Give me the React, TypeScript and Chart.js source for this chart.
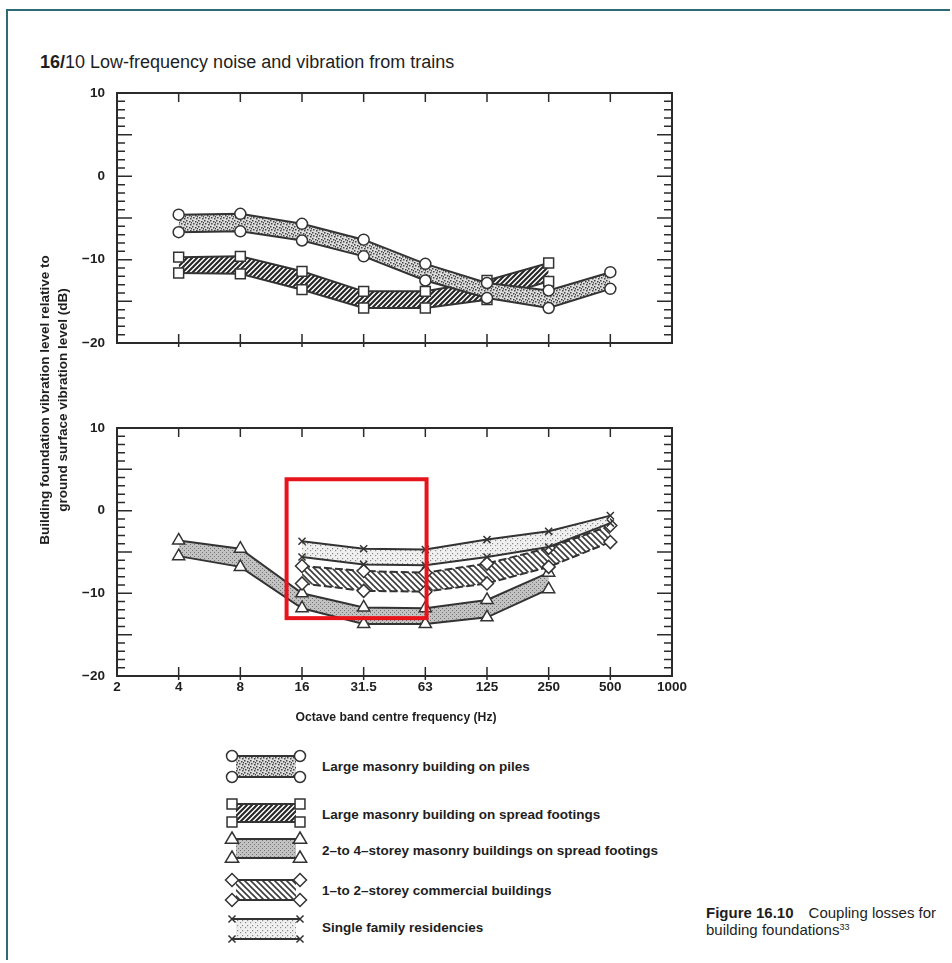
import React, { useEffect, useRef } from 'react';
import { Chart, registerables } from 'chart.js';

Chart.register(...registerables);

const FONT = '"Liberation Sans", Arial, Helvetica, sans-serif';

// Octave-band axis (tick labels)
const FREQ_LABELS = ['2', '4', '8', '16', '31.5', '63', '125', '250', '500', '1000'];

// Upper panel: large masonry building on piles (band limits, dB)
const PILES_FREQ = ['4', '8', '16', '31.5', '63', '125', '250', '500'];
const PILES_UPPER = [-4.6, -4.5, -5.7, -7.6, -10.5, -12.8, -13.7, -11.5];
const PILES_LOWER = [-6.7, -6.6, -7.7, -9.6, -12.5, -14.6, -15.8, -13.5];

// Upper panel: large masonry building on spread footings
const SPREAD_FREQ = ['4', '8', '16', '31.5', '63', '125', '250'];
const SPREAD_UPPER = [-9.7, -9.6, -11.4, -13.8, -13.8, -12.5, -10.4];
const SPREAD_LOWER = [-11.6, -11.7, -13.6, -15.8, -15.8, -14.8, -12.6];

// Lower panel: 2- to 4-storey masonry buildings on spread footings
const MASONRY_FREQ = ['4', '8', '16', '31.5', '63', '125', '250'];
const MASONRY_UPPER = [-3.6, -4.6, -10.0, -11.7, -11.8, -10.8, -7.5];
const MASONRY_LOWER = [-5.5, -6.8, -11.8, -13.7, -13.7, -12.9, -9.5];

// Lower panel: 1- to 2-storey commercial buildings
const COMMERCIAL_FREQ = ['16', '31.5', '63', '125', '250', '500'];
const COMMERCIAL_UPPER = [-6.7, -7.3, -7.5, -6.4, -4.5, -1.8];
const COMMERCIAL_LOWER = [-8.8, -9.7, -9.8, -8.8, -6.8, -3.8];

// Lower panel: single family residencies
const RESIDENCE_FREQ = ['16', '31.5', '63', '125', '250', '500'];
const RESIDENCE_UPPER = [-3.7, -4.6, -4.7, -3.5, -2.5, -0.6];
const RESIDENCE_LOWER = [-5.6, -6.5, -6.6, -5.6, -4.4, -1.5];

const LEGEND_LABELS = [
  'Large masonry building on piles',
  'Large masonry building on spread footings',
  '2\u2013to 4\u2013storey masonry buildings on spread footings',
  '1\u2013to 2\u2013storey commercial buildings',
  'Single family residencies',
];

// Highlight box (annotation on the lower panel), in axis units
const HIGHLIGHT = { xFrom: 2.75, xTo: 5.02, yFrom: 3.8, yTo: -13.0 };

const LINE = '#333333';

const idx = (f: string) => FREQ_LABELS.indexOf(f);
const pts = (freqs: string[], vals: number[]) => freqs.map((f, i) => ({ x: idx(f), y: vals[i] }));

type PatKind = 'coarseDots' | 'fineDots' | 'lightDots' | 'slash' | 'backslash';

function makePattern(kind: PatKind): CanvasPattern {
  const c = document.createElement('canvas');
  const g = c.getContext('2d')!;
  if (kind === 'slash' || kind === 'backslash') {
    const s = kind === 'slash' ? 5 : 6;
    c.width = s;
    c.height = s;
    g.fillStyle = '#ffffff';
    g.fillRect(0, 0, s, s);
    g.strokeStyle = kind === 'slash' ? '#262626' : '#3c3c3c';
    g.lineWidth = kind === 'slash' ? 2.1 : 1.6;
    g.beginPath();
    if (kind === 'slash') {
      g.moveTo(-1, s + 1); g.lineTo(s + 1, -1);
      g.moveTo(-1, 1); g.lineTo(1, -1);
      g.moveTo(s - 1, s + 1); g.lineTo(s + 1, s - 1);
    } else {
      g.moveTo(-1, -1); g.lineTo(s + 1, s + 1);
      g.moveTo(-1, s - 1); g.lineTo(1, s + 1);
      g.moveTo(s - 1, -1); g.lineTo(s + 1, 1);
    }
    g.stroke();
  } else {
    let s = 6, bg = '#dcdcdc', dot = '#444444', w = 1.5;
    let spots: number[][] = [[0, 0], [3, 1], [1, 3], [4, 4], [5, 2]];
    if (kind === 'fineDots') {
      s = 4; bg = '#c2c2c2'; dot = '#767676'; w = 1; spots = [[0, 0], [2, 2]];
    } else if (kind === 'lightDots') {
      s = 5; bg = '#f0f0f0'; dot = '#8a8a8a'; w = 1.2; spots = [[0, 0], [2, 3]];
    }
    c.width = s;
    c.height = s;
    g.fillStyle = bg;
    g.fillRect(0, 0, s, s);
    g.fillStyle = dot;
    spots.forEach(([x, y]) => g.fillRect(x, y, w, w));
  }
  return g.createPattern(c, 'repeat')!;
}

function band(
  name: string,
  freqs: string[],
  upper: number[],
  lower: number[],
  style: string,
  radius: number,
  fillPattern: CanvasPattern,
  dash: number[] = []
) {
  const common = {
    borderColor: LINE,
    borderWidth: 2,
    borderDash: dash,
    pointStyle: style,
    pointRadius: radius,
    pointBackgroundColor: '#ffffff',
    pointBorderColor: LINE,
    pointBorderWidth: 1.5,
    tension: 0,
  };
  return [
    { ...common, label: name + ' (upper)', data: pts(freqs, upper), fill: false },
    { ...common, label: name + ' (lower)', data: pts(freqs, lower), fill: '-1', backgroundColor: fillPattern },
  ];
}

const framePlugin = {
  id: 'frameTicks',
  afterDraw(chart: any) {
    const { ctx, chartArea: a, scales } = chart;
    const xs = scales.x;
    const ys = scales.y;
    ctx.save();
    ctx.strokeStyle = '#2b2b2b';
    ctx.lineWidth = 2;
    ctx.strokeRect(a.left, a.top, a.right - a.left, a.bottom - a.top);
    ctx.lineWidth = 1.5;
    ctx.beginPath();
    for (let v = ys.min; v <= ys.max; v++) {
      const py = ys.getPixelForValue(v);
      const len = v % 5 === 0 ? 15 : 8;
      ctx.moveTo(a.left, py); ctx.lineTo(a.left + len, py);
      ctx.moveTo(a.right, py); ctx.lineTo(a.right - len, py);
    }
    for (let i = xs.min + 1; i < xs.max; i++) {
      const px = xs.getPixelForValue(i);
      ctx.moveTo(px, a.top); ctx.lineTo(px, a.top + 9);
      ctx.moveTo(px, a.bottom + 4); ctx.lineTo(px, a.bottom - 9);
    }
    ctx.stroke();
    ctx.restore();
  },
};

const highlightPlugin = {
  id: 'highlightBox',
  afterDraw(chart: any) {
    const { ctx, scales } = chart;
    const x0 = scales.x.getPixelForValue(HIGHLIGHT.xFrom);
    const x1 = scales.x.getPixelForValue(HIGHLIGHT.xTo);
    const y0 = scales.y.getPixelForValue(HIGHLIGHT.yFrom);
    const y1 = scales.y.getPixelForValue(HIGHLIGHT.yTo);
    ctx.save();
    ctx.strokeStyle = '#e8141c';
    ctx.lineWidth = 4;
    ctx.strokeRect(x0, y0, x1 - x0, y1 - y0);
    ctx.restore();
  },
};

const tickFont = { family: FONT, size: 13.5, weight: 'bold' as const };

function panelConfig(datasets: any[], padTop: number, padBottom: number, xHeight: number, showX: boolean, extra: any[]) {
  return {
    type: 'line' as const,
    data: { datasets },
    options: {
      animation: false as const,
      responsive: false,
      devicePixelRatio: 1,
      layout: { padding: { left: 0, right: 48, top: padTop, bottom: padBottom } },
      plugins: { legend: { display: false }, tooltip: { enabled: false } },
      scales: {
        x: {
          type: 'linear' as const,
          min: 0,
          max: 9,
          grid: { display: false },
          border: { display: false },
          ticks: {
            display: showX,
            stepSize: 1,
            autoSkip: false,
            maxRotation: 0,
            padding: -5,
            color: '#1e1e1e',
            font: tickFont,
            callback: (v: any) => FREQ_LABELS[v] ?? '',
          },
          afterFit: (s: any) => { s.height = xHeight; },
        },
        y: {
          min: -20,
          max: 10,
          grid: { display: false },
          border: { display: false },
          ticks: {
            stepSize: 10,
            padding: 4,
            color: '#1e1e1e',
            font: tickFont,
            callback: (v: any) => (v < 0 ? '\u2212' + Math.abs(v) : String(v)),
          },
          afterFit: (s: any) => { s.width = 117; },
        },
      },
    },
    plugins: [framePlugin, ...extra],
  };
}

function drawMarker(ctx: CanvasRenderingContext2D, style: string, x: number, y: number, r: number) {
  ctx.beginPath();
  if (style === 'circle') {
    ctx.arc(x, y, r, 0, Math.PI * 2);
  } else if (style === 'rect') {
    const s = Math.SQRT1_2 * r;
    ctx.rect(x - s, y - s, 2 * s, 2 * s);
  } else if (style === 'triangle') {
    ctx.moveTo(x, y - r);
    ctx.lineTo(x + r * 0.95, y + r * 0.6);
    ctx.lineTo(x - r * 0.95, y + r * 0.6);
    ctx.closePath();
  } else if (style === 'rectRot') {
    ctx.moveTo(x - r, y); ctx.lineTo(x, y - r); ctx.lineTo(x + r, y); ctx.lineTo(x, y + r);
    ctx.closePath();
  } else {
    const d = r * Math.SQRT1_2;
    ctx.moveTo(x - d, y - d); ctx.lineTo(x + d, y + d);
    ctx.moveTo(x + d, y - d); ctx.lineTo(x - d, y + d);
    ctx.stroke();
    return;
  }
  ctx.fillStyle = '#ffffff';
  ctx.fill();
  ctx.stroke();
}

// legend swatch geometry (page px) and the legend canvas origin
const LEG_ORIGIN = { x: 220, y: 742 };
const LEG_ROWS = [
  { top: 756, bottom: 777, text: 767 },
  { top: 804, bottom: 822, text: 815 },
  { top: 839, bottom: 858, text: 851 },
  { top: 880, bottom: 900, text: 891 },
  { top: 919, bottom: 939, text: 928 },
];
const LEG_STYLES = [
  { style: 'circle', r: 5.5 },
  { style: 'rect', r: 7 },
  { style: 'triangle', r: 7 },
  { style: 'rectRot', r: 6.5 },
  { style: 'crossRot', r: 5 },
];

export default function App() {
  const topRef = useRef<HTMLCanvasElement>(null);
  const botRef = useRef<HTMLCanvasElement>(null);
  const legRef = useRef<HTMLCanvasElement>(null);

  useEffect(() => {
    const pat = {
      piles: makePattern('coarseDots'),
      spread: makePattern('slash'),
      masonry: makePattern('fineDots'),
      commercial: makePattern('backslash'),
      residence: makePattern('lightDots'),
    };

    const topDatasets = [
      ...band('Large masonry building on piles', PILES_FREQ, PILES_UPPER, PILES_LOWER, 'circle', 5.5, pat.piles),
      ...band('Large masonry building on spread footings', SPREAD_FREQ, SPREAD_UPPER, SPREAD_LOWER, 'rect', 7, pat.spread),
    ];
    const botDatasets = [
      ...band('Single family residencies', RESIDENCE_FREQ, RESIDENCE_UPPER, RESIDENCE_LOWER, 'crossRot', 5, pat.residence),
      ...band('1-to 2-storey commercial buildings', COMMERCIAL_FREQ, COMMERCIAL_UPPER, COMMERCIAL_LOWER, 'rectRot', 6.5, pat.commercial, [8, 3]),
      ...band('2-to 4-storey masonry buildings on spread footings', MASONRY_FREQ, MASONRY_UPPER, MASONRY_LOWER, 'triangle', 7, pat.masonry),
    ];

    const top = new Chart(topRef.current!, panelConfig(topDatasets, 23, 27, 0, false, []) as any);
    const bot = new Chart(botRef.current!, panelConfig(botDatasets, 18, 0, 34, true, [highlightPlugin]) as any);

    // legend swatches
    const lc = legRef.current!;
    const g = lc.getContext('2d')!;
    g.clearRect(0, 0, lc.width, lc.height);
    const pats = [pat.piles, pat.spread, pat.masonry, pat.commercial, pat.residence];
    const x0 = 232 - LEG_ORIGIN.x;
    const x1 = 300 - LEG_ORIGIN.x;
    LEG_ROWS.forEach((row, i) => {
      const t = row.top - LEG_ORIGIN.y;
      const b = row.bottom - LEG_ORIGIN.y;
      g.fillStyle = pats[i];
      g.fillRect(x0 + 4, t, x1 - x0 - 8, b - t);
      g.strokeStyle = LINE;
      g.lineWidth = 2;
      g.beginPath();
      g.moveTo(x0, t); g.lineTo(x1, t);
      g.moveTo(x0, b); g.lineTo(x1, b);
      g.stroke();
      g.lineWidth = 1.5;
      const m = LEG_STYLES[i];
      drawMarker(g, m.style, x0, t, m.r);
      drawMarker(g, m.style, x1, t, m.r);
      drawMarker(g, m.style, x0, b, m.r);
      drawMarker(g, m.style, x1, b, m.r);
    });

    return () => {
      top.destroy();
      bot.destroy();
    };
  }, []);

  const abs = (l: number, t: number): React.CSSProperties => ({ position: 'absolute', left: l, top: t });

  return (
    <div
      style={{
        position: 'absolute',
        left: 0,
        top: 0,
        width: 950,
        height: 960,
        overflow: 'hidden',
        background: '#ffffff',
        fontFamily: FONT,
        color: '#1e1e1e',
      }}
    >
      <div
        style={{
          position: 'absolute',
          left: 6,
          top: 9,
          width: 960,
          height: 970,
          borderTop: '2.5px solid #2c6b74',
          borderLeft: '2.5px solid #2c6b74',
          boxSizing: 'border-box',
        }}
      />
      <div style={{ ...abs(40, 51), fontSize: 18, whiteSpace: 'nowrap', lineHeight: '22px' }}>
        <b>16/</b>10 Low-frequency noise and vibration from trains
      </div>

      <canvas ref={topRef} width={720} height={300} style={{ ...abs(0, 70), width: 720, height: 300 }} />
      <canvas ref={botRef} width={720} height={300} style={{ ...abs(0, 410), width: 720, height: 300 }} />

      <div
        style={{
          position: 'absolute',
          left: 54 - 200,
          top: 400 - 18,
          width: 400,
          height: 36,
          transform: 'rotate(-90deg)',
          transformOrigin: '50% 50%',
          textAlign: 'center',
          fontSize: 13.5,
          fontWeight: 'bold',
          lineHeight: '18px',
          whiteSpace: 'nowrap',
        }}
      >
        Building foundation vibration level relative to
        <br />
        ground surface vibration level (dB)
      </div>

      <div
        style={{
          position: 'absolute',
          left: 196,
          top: 709,
          width: 400,
          textAlign: 'center',
          fontSize: 12.2,
          fontWeight: 'bold',
          lineHeight: '16px',
          whiteSpace: 'nowrap',
        }}
      >
        Octave band centre frequency (Hz)
      </div>

      <canvas ref={legRef} width={100} height={210} style={{ ...abs(LEG_ORIGIN.x, LEG_ORIGIN.y), width: 100, height: 210 }} />
      {LEGEND_LABELS.map((lab, i) => (
        <div
          key={lab}
          style={{
            ...abs(322, LEG_ROWS[i].text - 8),
            fontSize: 13.5,
            fontWeight: 'bold',
            lineHeight: '16px',
            whiteSpace: 'nowrap',
          }}
        >
          {lab}
        </div>
      ))}

      <div style={{ ...abs(706, 904), fontSize: 15, lineHeight: '17px', whiteSpace: 'nowrap' }}>
        <b>Figure 16.10</b>
        {'\u2003Coupling losses for'}
        <br />
        building foundations<sup style={{ fontSize: 9, verticalAlign: 'top', position: 'relative', top: -2 }}>33</sup>
      </div>
    </div>
  );
}
